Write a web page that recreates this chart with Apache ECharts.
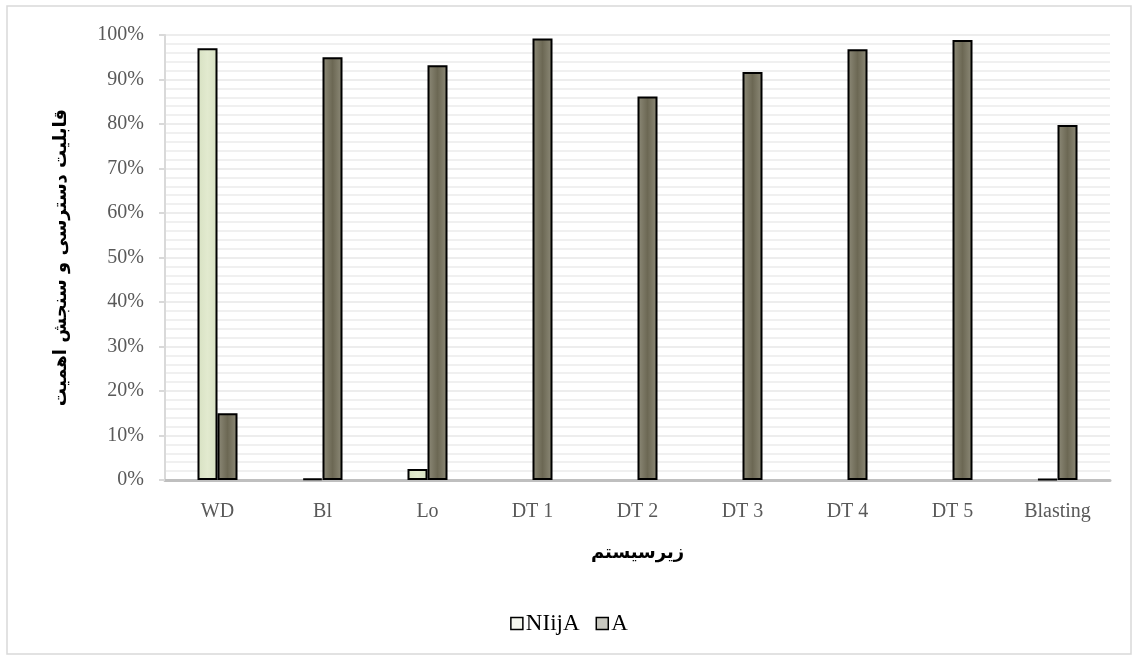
<!DOCTYPE html>
<html><head><meta charset="utf-8">
<script src="https://cdn.jsdelivr.net/npm/echarts@6/dist/echarts.min.js"></script>
<style>html,body{margin:0;padding:0;background:#fff}#c{width:1138px;height:660px}</style>
</head><body><div id="c"></div>
<script>
const categories = ['WD','Bl','Lo','DT 1','DT 2','DT 3','DT 4','DT 5','Blasting'];
const seriesNames = ['NIijA','A'];
const niijaValues = [0.97, 0.003, 0.025, '-', '-', '-', '-', '-', 0.002];
const aValues = [0.15, 0.95, 0.932, 0.992, 0.862, 0.917, 0.968, 0.989, 0.798];
const yTicks = [0,0.1,0.2,0.3,0.4,0.5,0.6,0.7,0.8,0.9,1];

const chart = echarts.init(document.getElementById('c'));
const serif = 'Liberation Serif';
chart.setOption({
  animation:false,
  backgroundColor:'#fff',
  graphic:[{type:'rect',shape:{x:7,y:6,width:1124,height:648},style:{fill:'none',stroke:'#d9d9d9',lineWidth:1.5},silent:true}],
  grid:{left:165,right:28,top:35,bottom:180},
  legend:{bottom:20,left:'center',icon:'rect',itemWidth:12,itemHeight:12,itemGap:16,
    textStyle:{fontFamily:serif,fontSize:23,color:'#000',padding:[0,0,0,-2]},
    data:[{name:'NIijA',itemStyle:{color:'#f4f6ee',borderColor:'#000',borderWidth:1.5}},
          {name:'A',itemStyle:{color:'#c8c8c0',borderColor:'#000',borderWidth:1.5}}]},
  xAxis:{type:'category',data:categories,
    name:'زیرسیستم',nameLocation:'middle',nameGap:64,
    nameTextStyle:{fontFamily:'DejaVu Sans',fontWeight:'bold',fontSize:18,color:'#000'},
    axisLine:{lineStyle:{color:'#bfbfbf',width:3}},axisTick:{show:false},
    axisLabel:{fontFamily:serif,fontSize:20,color:'#595959',margin:22}},
  yAxis:{type:'value',min:0,max:1,interval:0.1,
    name:'قابلیت دسترسی و سنجش اهمیت',nameLocation:'middle',nameGap:95,nameRotate:90,
    nameTextStyle:{fontFamily:'DejaVu Sans',fontWeight:'bold',fontSize:18,color:'#000'},
    axisLine:{show:true,lineStyle:{color:'#d9d9d9',width:2}},
    axisTick:{show:true,inside:false,length:6,lineStyle:{color:'#d9d9d9',width:2}},
    axisLabel:{fontFamily:serif,fontSize:20,color:'#595959',margin:21,
      formatter:v=>Math.round(v*100)+'%'},
    splitLine:{show:true,lineStyle:{color:'#ededed',width:2}},
    minorTick:{show:false,splitNumber:5},
    minorSplitLine:{show:true,lineStyle:{color:'#f0f0f0',width:2}}},
  series:[
    {name:seriesNames[0],type:'bar',data:niijaValues,barWidth:20,barGap:'0%',
      itemStyle:{borderColor:'#000',borderWidth:2,
        color:{type:'linear',x:0,y:0,x2:1,y2:0,colorStops:[{offset:0,color:'#d7e1c2'},{offset:0.5,color:'#e2eacf'},{offset:1,color:'#d7e1c2'}]}}},
    {name:seriesNames[1],type:'bar',data:aValues,barWidth:20,
      itemStyle:{borderColor:'#000',borderWidth:2,
        color:{type:'linear',x:0,y:0,x2:1,y2:0,colorStops:[{offset:0,color:'#8e8b79'},{offset:0.5,color:'#6c6854'},{offset:1,color:'#8e8b79'}]}}}
  ]
});
</script></body></html>
